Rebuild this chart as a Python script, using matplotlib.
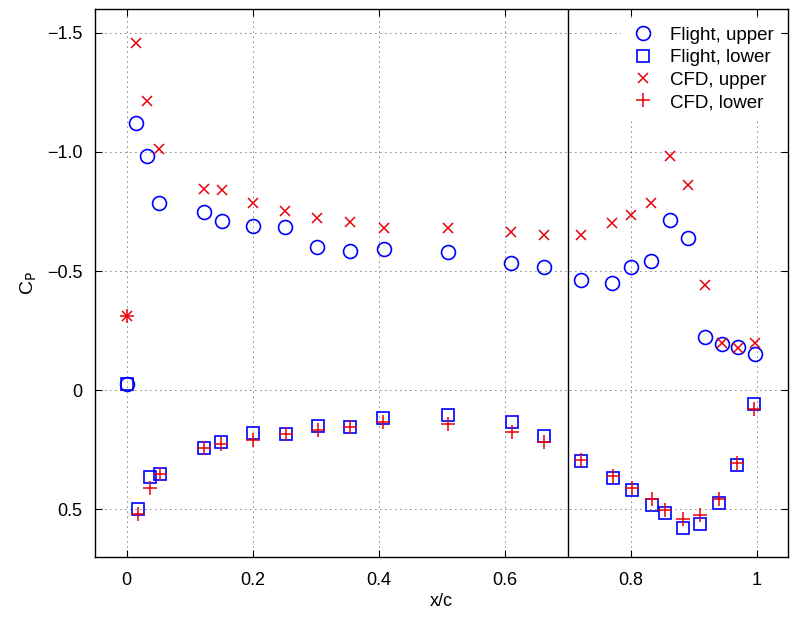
import matplotlib
matplotlib.use('Agg')
import matplotlib.pyplot as plt

plt.rcParams['font.family'] = ['Liberation Sans', 'DejaVu Sans']

# pressure coefficient along the chord
x_upper = [0.0, 0.015, 0.033, 0.051, 0.123, 0.151, 0.201, 0.252, 0.303, 0.355, 0.408, 0.510,
           0.611, 0.663, 0.721, 0.771, 0.801, 0.832, 0.863, 0.892, 0.919, 0.946, 0.971, 0.997]
flight_upper = [-0.028, -1.121, -0.984, -0.785, -0.748, -0.711, -0.689, -0.685, -0.603, -0.584,
                -0.591, -0.581, -0.532, -0.518, -0.461, -0.451, -0.517, -0.544, -0.714, -0.640,
                -0.224, -0.195, -0.182, -0.150]
cfd_upper = [-0.31, -1.457, -1.212, -1.014, -0.846, -0.840, -0.784, -0.752, -0.724, -0.706,
             -0.682, -0.680, -0.663, -0.650, -0.650, -0.700, -0.735, -0.786, -0.981, -0.860,
             -0.441, -0.196, -0.178, -0.196]

x_lower = [0.0, 0.019, 0.037, 0.053, 0.123, 0.150, 0.200, 0.253, 0.304, 0.355, 0.407, 0.510,
           0.612, 0.663, 0.722, 0.772, 0.802, 0.834, 0.855, 0.883, 0.911, 0.940, 0.969, 0.996]
flight_lower = [-0.028, 0.497, 0.363, 0.353, 0.244, 0.217, 0.181, 0.182, 0.150, 0.154,
                0.115, 0.106, 0.133, 0.192, 0.297, 0.370, 0.420, 0.483, 0.517, 0.577,
                0.563, 0.472, 0.314, 0.059]
cfd_lower = [-0.31, 0.521, 0.409, 0.353, 0.244, 0.227, 0.209, 0.182, 0.165, 0.154,
             0.134, 0.140, 0.175, 0.218, 0.293, 0.360, 0.409, 0.458, 0.504, 0.542,
             0.524, 0.455, 0.304, 0.077]

x_ticks = [0, 0.2, 0.4, 0.6, 0.8, 1.0]
x_ticklabels = ['0', '0.2', '0.4', '0.6', '0.8', '1']
y_ticks = [-1.5, -1.0, -0.5, 0, 0.5]
y_ticklabels = ['\u22121.5', '\u22121.0', '\u22120.5', '0', '0.5']

blue = '#0000ff'
red = '#e8000b'

fig = plt.figure(figsize=(7.93, 6.19), dpi=100)
ax = fig.add_axes([0.1198, 0.1002, 0.8739, 0.8853])

ax.plot(x_upper, flight_upper, 'o', mfc='none', mec=blue, ms=10, mew=1.2, label='Flight, upper')
ax.plot(x_lower, flight_lower, 's', mfc='none', mec=blue, ms=8, mew=1.2, label='Flight, lower')
ax.plot(x_upper, cfd_upper, 'x', color=red, ms=7, mew=1.1, label='CFD, upper')
ax.plot(x_lower, cfd_lower, '+', color=red, ms=10, mew=1.1, label='CFD, lower')

ax.axvline(0.7, color='black', lw=1.0)

ax.set_xlim(-0.05, 1.05)
ax.set_ylim(0.7, -1.6)
ax.set_xticks(x_ticks)
ax.set_xticklabels(x_ticklabels)
ax.set_yticks(y_ticks)
ax.set_yticklabels(y_ticklabels)
ax.tick_params(direction='in', top=True, right=True, length=5, width=0.8, labelsize=13)
ax.tick_params(axis='x', pad=11)
ax.tick_params(axis='y', pad=9)
ax.grid(True, color='black', linestyle=(0, (1, 5)), linewidth=0.6)
for s in ax.spines.values():
    s.set_linewidth(1.0)

ax.set_xlabel('x/c', fontsize=13, labelpad=3)
ax.set_ylabel(r'C$_\mathrm{P}$', fontsize=14, labelpad=6)

leg = ax.legend(loc='upper right', bbox_to_anchor=(0.998, 0.9915), frameon=True, fontsize=13.5,
                handletextpad=0.7, labelspacing=0.28, borderaxespad=0.3, handlelength=1.5)
leg.get_frame().set_edgecolor('none')
leg.get_frame().set_facecolor('white')
leg.get_frame().set_alpha(1.0)

fig.savefig('out.png', dpi=100)
